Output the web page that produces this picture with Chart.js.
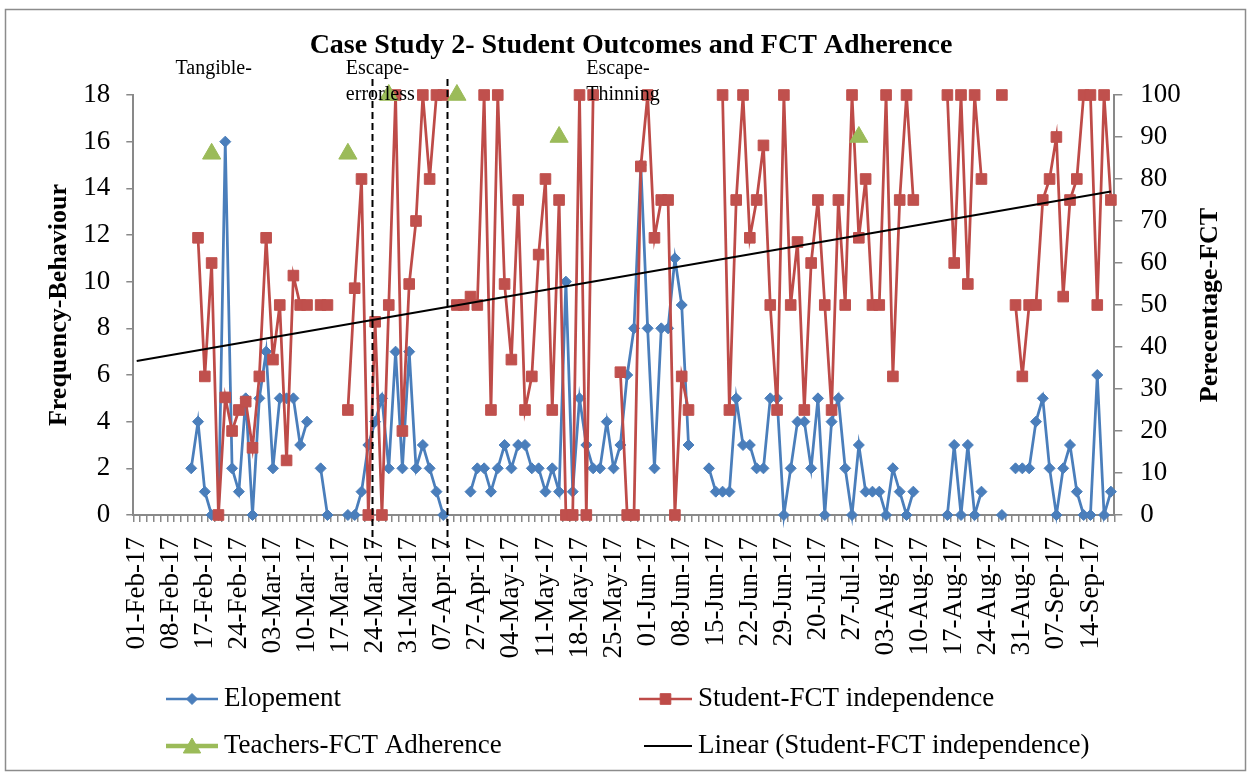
<!DOCTYPE html>
<html>
<head>
<meta charset="utf-8">
<script src="https://cdn.jsdelivr.net/npm/chart.js@4"></script>
<style>
html,body{margin:0;padding:0;background:#fff;}
canvas{display:block;}
</style>
</head>
<body>
<canvas id="c" width="1249" height="775"></canvas>
<script>
const N = null;
// Tick labels shown on the category axis (one every 5 sessions)
const tickLabels = ['01-Feb-17','08-Feb-17','17-Feb-17','24-Feb-17','03-Mar-17','10-Mar-17','17-Mar-17','24-Mar-17','31-Mar-17','07-Apr-17','27-Apr-17','04-May-17','11-May-17','18-May-17','25-May-17','01-Jun-17','08-Jun-17','15-Jun-17','22-Jun-17','29-Jun-17','20-Jul-17','27-Jul-17','03-Aug-17','10-Aug-17','17-Aug-17','24-Aug-17','31-Aug-17','07-Sep-17','14-Sep-17'];
const labelEvery = 5;

// Elopement (frequency, left axis)
const elopement = [
  N,N,N,N,N,N,N,N,2,4,
  1,0,0,16,2,1,5,0,5,7,
  2,5,5,5,3,4,N,2,0,N,
  N,0,0,1,3,4,5,2,7,2,
  7,2,3,2,1,0,N,N,N,1,
  2,2,1,2,3,2,3,3,2,2,
  1,2,1,10,1,5,3,2,2,4,
  2,3,6,8,15,8,2,8,8,11,
  9,3,N,N,2,1,1,1,5,3,
  3,2,2,5,5,0,2,4,4,2,
  5,0,4,5,2,0,3,1,1,1,
  0,2,1,0,1,N,N,N,N,0,
  3,0,3,0,1,N,N,0,N,2,
  2,2,4,5,2,0,2,3,1,0,
  0,6,0,1
];

// Student-FCT independence (percentage, right axis)
const studentFCT = [
  N,N,N,N,N,N,N,N,N,66,
  33,60,0,28,20,25,27,16,33,66,
  37,50,13,57,50,50,N,50,50,N,
  N,25,54,80,0,46,0,50,100,20,
  55,70,100,80,100,100,N,50,50,52,
  50,100,25,100,55,37,75,25,33,62,
  80,25,75,0,0,100,0,100,N,N,
  N,34,0,0,83,100,66,75,75,0,
  33,25,N,N,N,N,100,25,75,100,
  66,75,88,50,25,100,50,65,25,60,
  75,50,25,75,50,100,66,80,50,50,
  100,33,75,100,75,N,N,N,N,100,
  60,100,55,100,80,N,N,100,N,50,
  33,50,50,75,80,90,52,75,80,100,
  100,50,100,75
];

// Teachers-FCT Adherence (percentage, right axis): session index -> value
const teacherSessions = [11, 31, 37, 47, 62, 106];
const teacherValues   = [86, 86, 100, 100, 90, 90];

// Phase changes happen after these session indices
const phaseChangeAfter = [34, 45];
const phaseNotes = [['Tangible-'], ['Escape-', 'errorless'], ['Escape-', 'Thinning']];
const noteStartSession = [5.7, 30.7, 66.0];

// ---- build what the library needs ----
const nCat = elopement.length;
const categories = Array.from({length: nCat}, (_, i) => (i % labelEvery === 0 ? (tickLabels[i / labelEvery] || '') : ''));
const teacherData = new Array(nCat).fill(null);
teacherSessions.forEach((s, k) => { teacherData[s] = teacherValues[k]; });

// Linear trendline (least squares on the student series, x = 1..n like Excel)
let sx = 0, sy = 0, sxx = 0, sxy = 0, cnt = 0;
studentFCT.forEach((v, i) => { if (v !== null) { const xv = i + 1; sx += xv; sy += v; sxx += xv * xv; sxy += xv * v; cnt++; } });
const slope = (cnt * sxy - sx * sy) / (cnt * sxx - sx * sx);
const intercept = (sy - slope * sx) / cnt;
const trendData = new Array(nCat).fill(null);
trendData[0] = intercept + slope * 1;
trendData[nCat - 1] = intercept + slope * nCat;

const BLUE = '#4A7EBB', RED = '#BE4B48', GREEN = '#9BBB59', AXIS = '#898989';
const SERIF = "'Liberation Serif', 'Times New Roman', serif";

const decor = {
  id: 'decor',
  beforeDraw(chart) {
    const ctx = chart.ctx;
    ctx.save();
    ctx.fillStyle = '#fff';
    ctx.fillRect(0, 0, chart.width, chart.height);
    ctx.strokeStyle = '#8c8c8c';
    ctx.lineWidth = 1.5;
    ctx.strokeRect(5.5, 9.5, 1240, 761);
    ctx.restore();
  },
  afterDraw(chart) {
    const ctx = chart.ctx;
    const xs = chart.scales.x;
    const area = chart.chartArea;
    ctx.save();
    // phase change lines
    ctx.strokeStyle = '#000';
    ctx.lineWidth = 2;
    ctx.setLineDash([7, 4]);
    phaseChangeAfter.forEach(b => {
      const px = Math.round(xs.getPixelForValue(b + 0.5)) + 0.5;
      ctx.beginPath();
      ctx.moveTo(px, area.top - 16);
      ctx.lineTo(px, area.bottom + 33);
      ctx.stroke();
    });
    ctx.setLineDash([]);
    // phase notes
    ctx.fillStyle = '#000';
    ctx.font = '20px ' + SERIF;
    ctx.textAlign = 'left';
    ctx.textBaseline = 'alphabetic';
    phaseNotes.forEach((lines, k) => {
      const px = xs.getPixelForValue(noteStartSession[k]);
      lines.forEach((t, j) => ctx.fillText(t, px, 74 + j * 26));
    });
    // right axis title (reads bottom to top)
    ctx.save();
    ctx.translate(1210, (area.top + area.bottom) / 2);
    ctx.rotate(-Math.PI / 2);
    ctx.font = 'bold 26px ' + SERIF;
    ctx.textAlign = 'center';
    ctx.textBaseline = 'middle';
    ctx.fillText('Perecentage-FCT', 0, 0);
    ctx.restore();
    // legend
    const items = [
      {x0: 166, x1: 218, y: 699, color: BLUE, style: 'rectRot', r: 5.5, lw: 2.5, text: 'Elopement'},
      {x0: 639, x1: 692, y: 699, color: RED, style: 'rect', r: 7.5, lw: 2.5, text: 'Student-FCT independence'},
      {x0: 166, x1: 218, y: 746, color: GREEN, style: 'triangle', r: 10, lw: 4.5, text: 'Teachers-FCT Adherence'},
      {x0: 644, x1: 692, y: 746, color: '#000', style: null, r: 0, lw: 2, text: 'Linear (Student-FCT independence)'}
    ];
    items.forEach(it => {
      ctx.strokeStyle = it.color;
      ctx.lineWidth = it.lw;
      ctx.beginPath();
      ctx.moveTo(it.x0, it.y);
      ctx.lineTo(it.x1, it.y);
      ctx.stroke();
      if (it.style) {
        ctx.fillStyle = it.color;
        ctx.strokeStyle = it.color;
        ctx.lineWidth = 1;
        Chart.helpers.drawPoint(ctx, {pointStyle: it.style, radius: it.r, rotation: 0, borderWidth: 1}, (it.x0 + it.x1) / 2, it.y + (it.style === 'triangle' ? 2 : 0));
      }
      ctx.fillStyle = '#000';
      ctx.font = '27px ' + SERIF;
      ctx.textAlign = 'left';
      ctx.textBaseline = 'middle';
      ctx.fillText(it.text, it.x1 + 6, it.y);
    });
    ctx.restore();
  }
};

new Chart(document.getElementById('c'), {
  type: 'line',
  data: {
    labels: categories,
    datasets: [
      {
        label: 'Elopement', data: elopement, yAxisID: 'y', order: 4, clip: false,
        borderColor: BLUE, backgroundColor: BLUE, borderWidth: 2.75,
        pointStyle: 'rectRot', pointRadius: 5.5, pointBackgroundColor: BLUE, pointBorderColor: BLUE, pointBorderWidth: 1,
        tension: 0, spanGaps: false
      },
      {
        label: 'Student-FCT independence', data: studentFCT, yAxisID: 'y1', order: 3, clip: false,
        borderColor: RED, backgroundColor: '#C0504D', borderWidth: 2.75,
        pointStyle: 'rect', pointRadius: 7.5, pointBackgroundColor: '#C0504D', pointBorderColor: '#C0504D', pointBorderWidth: 1,
        tension: 0, spanGaps: false
      },
      {
        label: 'Teachers-FCT Adherence', data: teacherData, yAxisID: 'y1', order: 2, clip: false,
        borderColor: GREEN, backgroundColor: GREEN, borderWidth: 4,
        pointStyle: 'triangle', pointRadius: 10.5, pointBackgroundColor: GREEN, pointBorderColor: GREEN, pointBorderWidth: 1,
        tension: 0, spanGaps: false
      },
      {
        label: 'Linear (Student-FCT independence)', data: trendData, yAxisID: 'y1', order: 1, clip: false,
        borderColor: '#000', borderWidth: 2, pointRadius: 0, tension: 0, spanGaps: true
      }
    ]
  },
  options: {
    responsive: false,
    animation: false,
    devicePixelRatio: 1,
    events: [],
    layout: {padding: {left: 13, right: 0, top: 0, bottom: 0}},
    plugins: {
      legend: {display: false},
      tooltip: {enabled: false},
      title: {
        display: true,
        text: 'Case Study 2- Student Outcomes and FCT Adherence',
        color: '#000',
        font: {family: SERIF, size: 28, weight: 'bold'},
        padding: {top: 28.7, bottom: 32.7}
      }
    },
    scales: {
      x: {
        type: 'category',
        offset: true,
        grid: {display: true, drawOnChartArea: false, drawTicks: true, tickLength: 7, offset: true, color: AXIS, lineWidth: 1.5},
        border: {display: true, color: AXIS, width: 2},
        ticks: {autoSkip: false, minRotation: 90, maxRotation: 90, padding: 15, color: '#000', font: {family: SERIF, size: 27}},
        afterFit(s) { s.height = 260; }
      },
      y: {
        position: 'left',
        min: 0, max: 18,
        grid: {display: true, drawOnChartArea: false, drawTicks: true, tickLength: 7, color: AXIS, lineWidth: 1.5},
        border: {display: true, color: AXIS, width: 2},
        ticks: {stepSize: 2, padding: 16, color: '#000', font: {family: SERIF, size: 27}},
        title: {display: true, text: 'Frequency-Behaviour', color: '#000', font: {family: SERIF, size: 26, weight: 'bold'}, padding: {top: 30.4, bottom: 0}},
        afterFit(s) { s.width = 120.3; }
      },
      y1: {
        position: 'right',
        min: 0, max: 100,
        grid: {display: true, drawOnChartArea: false, drawTicks: true, tickLength: 8, color: AXIS, lineWidth: 1.5},
        border: {display: true, color: AXIS, width: 2},
        ticks: {stepSize: 10, padding: 18, color: '#000', font: {family: SERIF, size: 27}},
        afterFit(s) { s.width = 134.7; }
      }
    }
  },
  plugins: [decor]
});
</script>
</body>
</html>
